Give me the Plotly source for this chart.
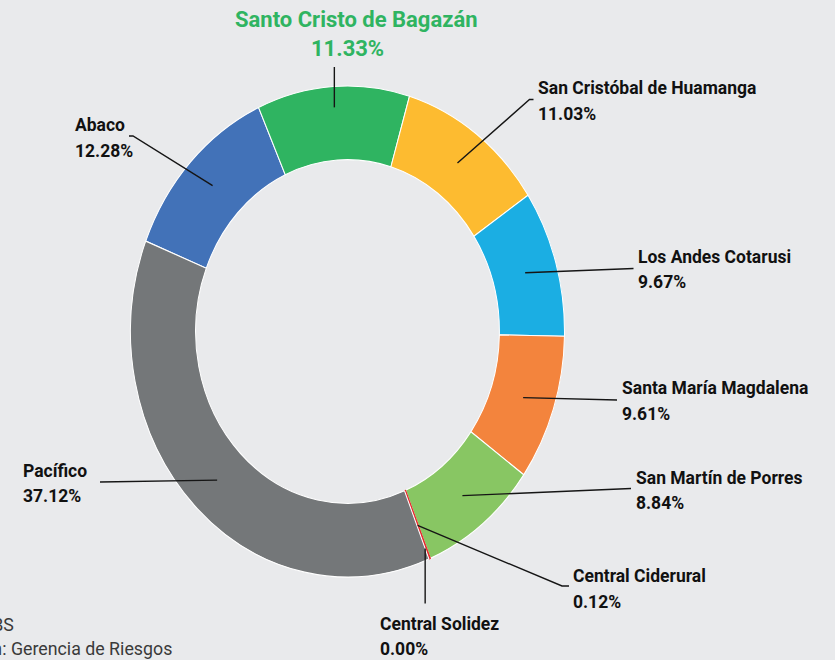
import math
import plotly.graph_objects as go

# ---------------- data ----------------
companies = ["Abaco", "Santo Cristo de Bagazán", "San Cristóbal de Huamanga",
             "Los Andes Cotarusi", "Santa María Magdalena", "San Martín de Porres",
             "Central Ciderural", "Central Solidez", "Pacífico"]
shares = [12.28, 11.33, 11.03, 9.67, 9.61, 8.84, 0.12, 0.00, 37.12]
value_labels = ["12.28%", "11.33%", "11.03%", "9.67%", "9.61%", "8.84%", "0.12%", "0.00%", "37.12%"]
colors = ["#4272b8", "#2fb461", "#fdbb30", "#1baee3", "#f3843d", "#88c663",
          "#e5262a", "#e5262a", "#747779"]
edge_colors = ["#ffffff", "#ffffff", "#ffffff", "#ffffff", "#ffffff", "#ffffff",
               "#e5262a", "#e5262a", "#ffffff"]
source_lines = ["Fuente: SBS", "Elaboración: Gerencia de Riesgos"]

# ---------------- layout geometry ----------------
W, H = 835, 660
CX, CY = 347.5, 331.5          # donut centre (px)
R = 217.0                      # horizontal radius (px)
STRETCH = 245.5 / 217.0        # vertical stretch of the donut
ROTATION = 291.6               # start angle of first slice, clockwise from 12 o'clock
BG = "#e9eaec"
FONT = "Roboto"
LINE_COLOR = "#151515"


def px(x):
    return x / W


def py(y):
    return 1 - y / H


# label layout: text x, anchor, baselines, leader start radius factor, path points after start
label_layout = {
    "Abaco": dict(x=72.5, xa="left", b1=131, b2=157, rf=0.86, pts=[(133, 136), (129, 136)]),
    "Santo Cristo de Bagazán": dict(x=356, x2=347, xa="center", b1=27, b2=56, rf=0.915,
                                    pts=[("sx", 67)], size=22, color="#2fb461"),
    "San Cristóbal de Huamanga": dict(x=535.5, xa="left", b1=94.5, b2=120, rf=0.853,
                                      pts=[(529.5, 99.5), (533.5, 99.5)]),
    "Los Andes Cotarusi": dict(x=635.5, xa="left", b1=263.5, b2=288.5, rf=0.853, pts=[(633.5, 268.5)]),
    "Santa María Magdalena": dict(x=619.5, xa="left", b1=394.5, b2=420, rf=0.853, pts=[(617, 400)]),
    "San Martín de Porres": dict(x=633.5, xa="left", b1=484, b2=509.5, rf=0.853, pts=[(631, 488.5)]),
    "Central Ciderural": dict(x=571, xa="left", b1=582.5, b2=608, rf=0.853,
                              pts=[(562, 586), (569, 586)]),
    "Central Solidez": dict(x=378, xa="left", b1=630, b2=655, rf=0.954, pts=[("sx", 603.5)]),
    "Pacífico": dict(x=21, xa="left", b1=477, b2=502.5, rf=0.853, pts=[(100, 482)]),
}

fig = go.Figure()

fig.add_trace(go.Pie(
    labels=companies,
    values=shares,
    sort=False,
    direction="clockwise",
    rotation=ROTATION - 360,
    hole=0.70,
    marker=dict(colors=colors, line=dict(color=edge_colors, width=1)),
    textinfo="none",
    hoverinfo="label+percent",
    showlegend=False,
    domain=dict(x=[px(CX - R), px(CX + R)], y=[py(CY + R), py(CY - R)]),
))

annotations = []
shapes = []
total = sum(shares)
cum = 0.0
for name, val, vlab in zip(companies, shares, value_labels):
    mid = ROTATION + 360.0 * (cum + val / 2.0) / total
    cum += val
    L = label_layout[name]
    a = math.radians(mid)
    r = R * L["rf"]
    sx = CX + r * math.sin(a)
    sy = CY - r * math.cos(a) * STRETCH
    pts = [(sx, sy)] + [((sx if p[0] == "sx" else p[0]), p[1]) for p in L["pts"]]
    path = "M " + " L ".join(f"{px(x):.5f},{py(y):.5f}" for x, y in pts)
    shapes.append(dict(type="path", xref="paper", yref="paper", path=path,
                       line=dict(color=LINE_COLOR, width=1.4)))
    size = L.get("size", 17.5)
    color = L.get("color", "#111111")
    for txt, base, xx in ((name, L["b1"], L["x"]), (vlab, L["b2"], L.get("x2", L["x"]))):
        annotations.append(dict(
            text=txt, xref="paper", yref="paper",
            x=px(xx), y=py(base - 0.35 * size),
            xanchor=L["xa"], yanchor="middle", showarrow=False,
            font=dict(family=FONT, size=size, color=color, weight=700),
        ))

# source notes (clipped at the left edge in the reference)
SRC_SIZE = 17.8
for txt, base, right in ((source_lines[0], 631, 16), (source_lines[1], 655, 174)):
    annotations.append(dict(
        text=txt, xref="paper", yref="paper", x=px(right), y=py(base - 0.35 * SRC_SIZE),
        xanchor="right", yanchor="middle", showarrow=False,
        font=dict(family=FONT, size=SRC_SIZE, color="#3a3a3a"),
    ))

fig.update_layout(
    width=W, height=H,
    margin=dict(l=0, r=0, t=0, b=0),
    paper_bgcolor=BG, plot_bgcolor=BG,
    annotations=annotations, shapes=shapes,
    showlegend=False,
)

ty = CY * (1 - STRETCH)
post = """
(function(){
  document.documentElement.style.margin = '0';
  document.body.style.margin = '0';
  document.body.style.padding = '0';
  document.body.style.overflow = 'hidden';
  document.body.style.background = 'BGC';
  var gd = document.getElementById('{plot_id}');
  function apply(){
    var pl = gd ? gd.querySelector('.pielayer') : null;
    if(!pl || !pl.querySelector('path.surface')) { setTimeout(apply, 30); return; }
    pl.setAttribute('transform', 'translate(0,TY) scale(1,SC)');
  }
  apply();
  if (gd && gd.on) { gd.on('plotly_afterplot', function(){ setTimeout(apply, 0); }); }
})();
""".replace("TY", f"{ty:.4f}").replace("SC", f"{STRETCH:.5f}").replace("BGC", BG)

fig.write_html("out.html", post_script=post, config={"displayModeBar": False})
